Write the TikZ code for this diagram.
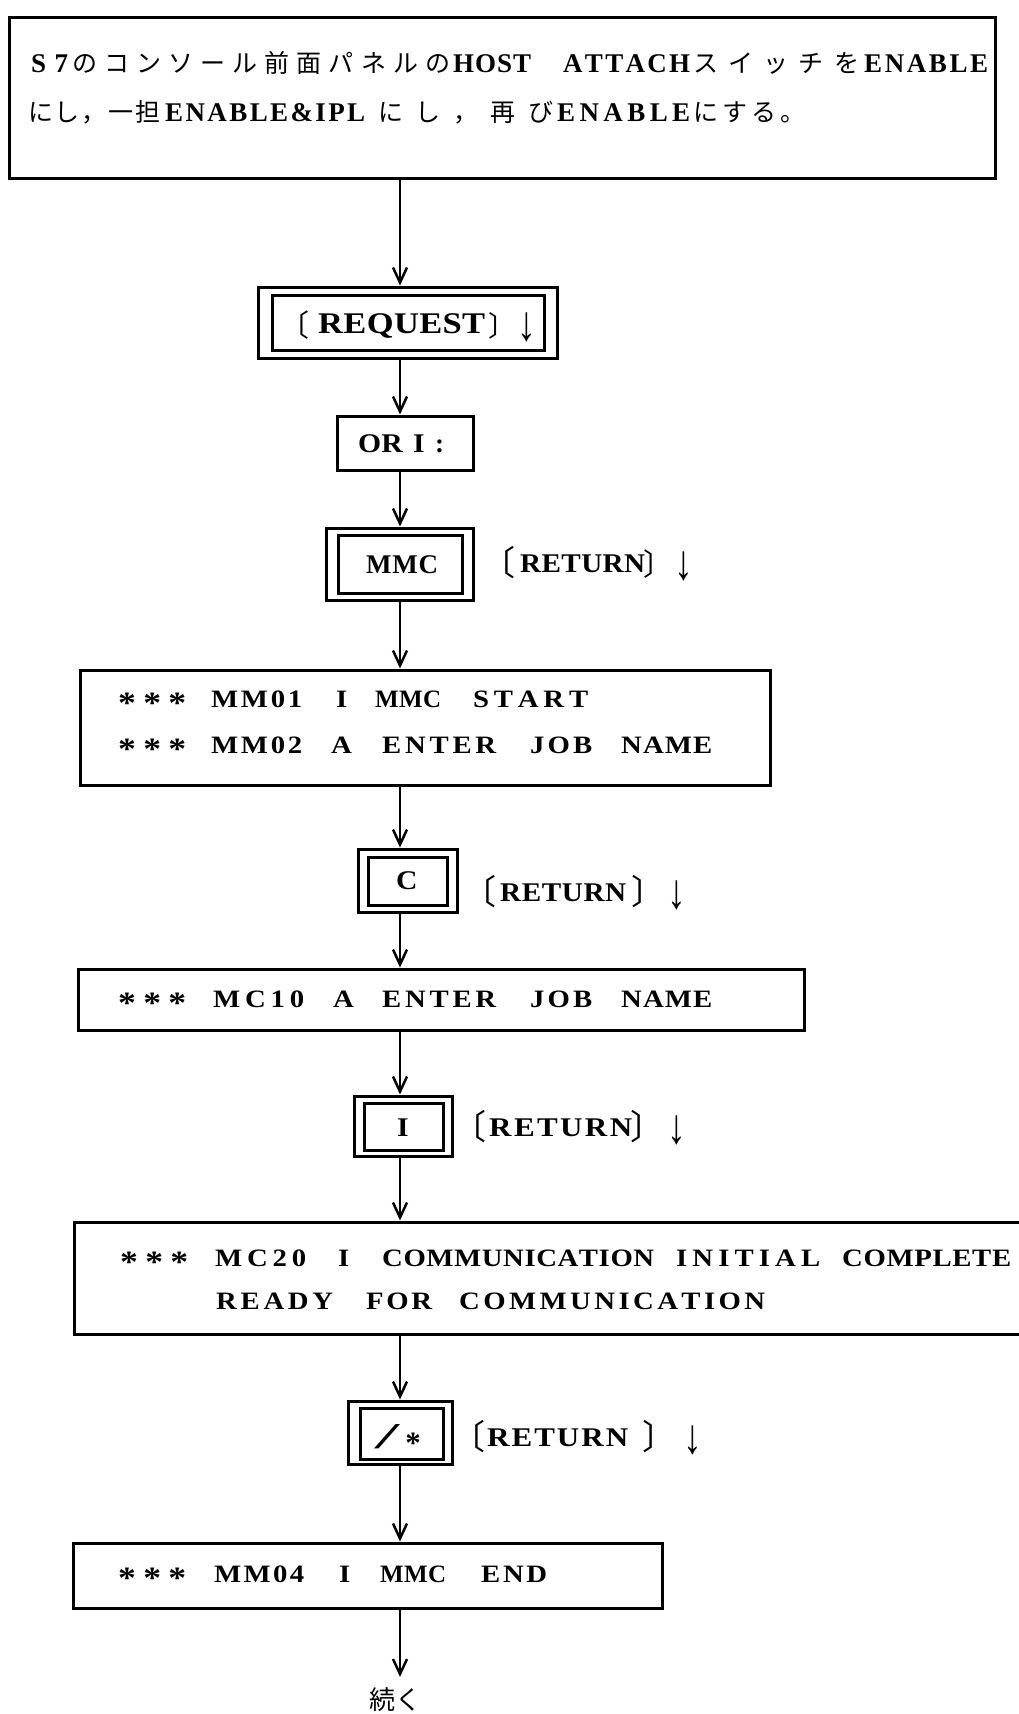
\documentclass[tikz,border=0pt]{standalone}
\usepackage{fontspec}
\usepackage{graphicx}
\setmainfont{Liberation Serif}
\newfontfamily\cjk{Noto Sans CJK JP}
\usetikzlibrary{arrows.meta}
\newcommand\fsz[1]{\fontsize{#1pt}{#1pt}\selectfont}
\def\hs{1.15}
\def\spr#1{\sprA#1\relax}
\def\sprA#1{\scalebox{\hs}[1]{#1}\futurelet\sprN\sprB}
\def\sprB{\ifx\sprN\relax\expandafter\sprG\else\hfil\expandafter\sprA\fi}
\def\sprG#1{}
\newcommand\sg[3]{\makebox[#1pt][l]{\makebox[#2pt][s]{\spr{#3}}}}
\newcommand\sgj[3]{\makebox[#1pt][l]{\makebox[#2pt][s]{\def\hs{1}\cjk\mdseries\fsz{25}\spr{#3}}}}
\newcommand\st{\raisebox{-6pt}{\fsz{31}*}}
\newcommand\lb[1]{\raisebox{-3pt}{\cjk\mdseries\fsz{#1}〔}}
\newcommand\rb[1]{\raisebox{-3pt}{\cjk\mdseries\fsz{#1}〕}}
\newcommand\dn{\raisebox{-7pt}{\scalebox{1.1}[1.45]{\mdseries\fsz{34}↓}}}
\begin{document}
\begin{tikzpicture}[x=1pt,y=-1pt,
  bx/.style={draw, line width=3pt, inner sep=0pt},
  tx/.style={inner sep=0pt, anchor=base west},
  arr/.style={line width=2.5pt, -{Straight Barb[length=15pt,width=14pt]}},
  lat/.style={font=\bfseries\fsz{25}},
  lab/.style={font=\bfseries\fsz{27}}]
\useasboundingbox (0,0) rectangle (1018,1714);
\coordinate (sp) at (400,0);

% top box
\node[bx, minimum width=986pt, minimum height=161pt] (top) at (502,97.5) {};
\node[tx, lab] (t1) at (31,72) {\def\hs{1}\sg{41}{37}{S7}\sgj{381}{378}{のコンソール前面パネルの}\sg{110}{78}{HOST}\sg{130}{127}{ATTACH}\sgj{171}{166}{スイッチを}\sg{124}{124}{ENABLE}};
\node[tx, lab] (t2) at (28,121) {\def\hs{1}\sgj{137}{132}{にし，一担}\sg{213}{200}{ENABLE\&IPL}\sgj{179}{175}{にし，再び}\sg{136}{133}{ENABLE}\sgj{112}{112}{にする。}};

% REQUEST
\node[bx, minimum width=299pt, minimum height=71pt] (req) at (407.5,322.5) {};
\node[bx, minimum width=272pt, minimum height=55pt] (reqi) at (408,322.5) {};
\node[tx, font=\bfseries\fsz{30}] (reqt) at (279,333) {\makebox[39pt][l]{\lb{30}}\sg{174}{167}{REQUEST}\makebox[25pt][l]{\hspace{-4.2pt}\rb{28}}\dn};

% ORI
\node[bx, minimum width=136pt, minimum height=54pt] (ori) at (405,443) {};
\node[tx, lab] (orit) at (358,452) {\makebox[86pt][s]{\scalebox{1.1}[1]{OR}\hfil\scalebox{1.1}[1]{I}\hfil :}};

% MMC
\node[bx, minimum width=147pt, minimum height=72pt] (mmc) at (399.5,564) {};
\node[bx, minimum width=124pt, minimum height=58pt] (mmci) at (400,564) {};
\node[tx, lab] (mmct) at (366,573) {\def\hs{1}\sg{72}{72}{MMC}};
\node[tx, lab] (l1) at (481,572) {\def\hs{1.08}\makebox[39pt][l]{\lb{34}}\sg{128}{125}{RETURN}\makebox[26pt][l]{\hspace{-4.5pt}\rb{30}}\dn};

% MM01
\node[bx, minimum width=690pt, minimum height=115pt] (mm01) at (425,727.5) {};
\node[tx, lat] (m1a) at (118,707) {\sg{93}{68}{\st\st\st}\sg{125}{91}{MM01}\sg{39}{12}{I}{\def\hs{1}\sg{98}{66}{MMC}}\sg{115}{115}{START}};
\node[tx, lat] (m1b) at (118,753) {\sg{93}{68}{\st\st\st}\sg{120}{91}{MM02}\sg{51}{21}{A}\sg{148}{114}{ENTER}\sg{91}{62}{JOB}\sg{91}{91}{NAME}};

% C
\node[bx, minimum width=99pt, minimum height=63pt] (c) at (407.5,880.5) {};
\node[bx, minimum width=79pt, minimum height=48pt] (ci) at (407.5,881) {};
\node[tx, lab] (ct) at (396,889) {\scalebox{1.1}[1]{C}};
\node[tx, lab] (l2) at (462,901) {\def\hs{1.08}\makebox[38pt][l]{\lb{34}}\sg{136}{126}{RETURN}\makebox[31pt][l]{\hspace{-5pt}\rb{34}}\dn};

% MC10
\node[bx, minimum width=726pt, minimum height=61pt] (mc10) at (441,999.5) {};
\node[tx, lat] (m10) at (118,1007) {\sg{95}{68}{\st\st\st}\sg{120}{91}{MC10}\sg{49}{19}{A}\sg{148}{114}{ENTER}\sg{91}{62}{JOB}\sg{91}{91}{NAME}};

% I
\node[bx, minimum width=98pt, minimum height=60pt] (ibox) at (403,1126) {};
\node[bx, minimum width=79pt, minimum height=47pt] (iboxi) at (403.5,1126.5) {};
\node[tx, lab] (it) at (397,1136) {\scalebox{1.1}[1]{I}};
\node[tx, lab] (l3) at (452,1136) {\makebox[37pt][l]{\lb{34}}\sg{146}{143}{RETURN}\makebox[32pt][l]{\hspace{-5pt}\rb{34}}\dn};

% MC20
\node[bx, minimum width=956pt, minimum height=112pt] (mc20) at (552,1278) {};
\node[tx, lat] (m20a) at (120,1266) {\sg{95}{68}{\st\st\st}\sg{123}{91}{MC20}\sg{44}{12}{I}\sg{294}{272}{COMMUNICATION}\sg{166}{144}{INITIAL}\sg{169}{169}{COMPLETE}};
\node[tx, lat] (m20b) at (216,1309) {\sg{150}{117}{READY}\sg{93}{66}{FOR}\sg{306}{306}{COMMUNICATION}};

% /*
\node[bx, minimum width=104pt, minimum height=63pt] (sl) at (400,1432.5) {};
\node[bx, minimum width=83pt, minimum height=51pt] (sli) at (401.5,1433.5) {};
\node[anchor=south west, inner sep=0pt] (slt) at (374,1449) {\resizebox{26pt}{24pt}{\fsz{30}/}};
\node[anchor=base, inner sep=0pt, font=\bfseries\fsz{31}] (slt2) at (413,1453) {*};
\node[tx, lab] (l4) at (451,1446) {\makebox[36pt][l]{\lb{34}}\sg{160}{141}{RETURN}\makebox[36pt][l]{\hspace{-5pt}\rb{34}}\dn};

% MM04
\node[bx, minimum width=589pt, minimum height=65pt] (mm04) at (367.5,1575.5) {};
\node[tx, lat] (m04) at (118,1582) {\sg{96}{68}{\st\st\st}\sg{125}{90}{MM04}\sg{41}{12}{I}{\def\hs{1}\sg{101}{66}{MMC}}\sg{66}{66}{END}};

\coordinate (endp) at (400,1677);
\node[font=\cjk\fsz{26}, inner sep=0pt] (cont) at (395,1700) {続く};

% connectors
\draw[arr] (top.south -| sp) -- (req.north -| sp);
\draw[arr] (req.south -| sp) -- (ori.north -| sp);
\draw[arr] (ori.south -| sp) -- (mmc.north -| sp);
\draw[arr] (mmc.south -| sp) -- (mm01.north -| sp);
\draw[arr] (mm01.south -| sp) -- (c.north -| sp);
\draw[arr] (c.south -| sp) -- (mc10.north -| sp);
\draw[arr] (mc10.south -| sp) -- (ibox.north -| sp);
\draw[arr] (ibox.south -| sp) -- (mc20.north -| sp);
\draw[arr] (mc20.south -| sp) -- (sl.north -| sp);
\draw[arr] (sl.south -| sp) -- (mm04.north -| sp);
\draw[arr] (mm04.south -| sp) -- (endp);
\end{tikzpicture}
\end{document}
